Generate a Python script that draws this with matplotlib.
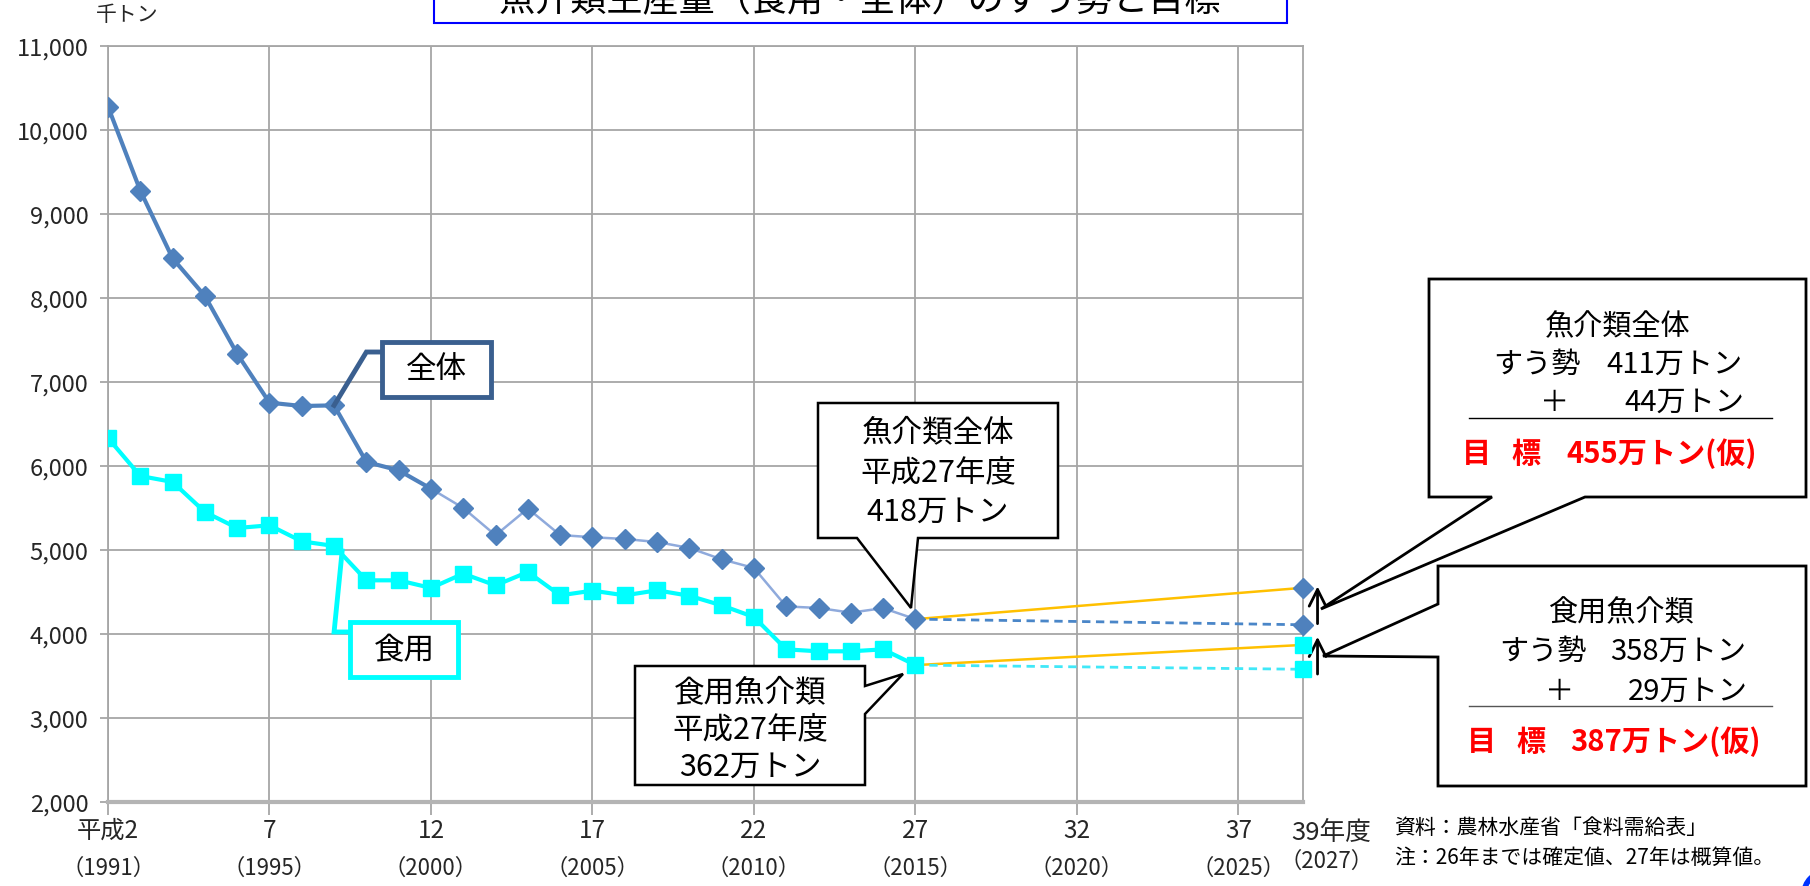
import matplotlib.pyplot as plt
from matplotlib.patches import Polygon, Rectangle, Ellipse

plt.rcParams['font.family'] = ['Noto Sans CJK JP', 'DejaVu Sans']

W, H = 1810, 887

# fiscal years (Heisei) and production, thousand tons
years = list(range(2, 28))
total = [10278, 9278, 8472, 8024, 7335, 6754, 6714, 6722, 6048, 5948, 5730, 5500, 5175,
         5494, 5178, 5152, 5131, 5095, 5024, 4889, 4786, 4328, 4310, 4254, 4308, 4177]
food = [6333, 5881, 5810, 5452, 5262, 5294, 5103, 5048, 4639, 4639, 4548, 4718, 4579,
        4738, 4460, 4516, 4460, 4520, 4455, 4341, 4202, 3817, 3794, 3794, 3817, 3630]

proj_years = [27, 39]
total_target = [4177, 4550]
total_trend = [4177, 4110]
food_target = [3630, 3870]
food_trend = [3630, 3580]

tick_years = [2, 7, 12, 17, 22, 27, 32, 37]
tick_top = ['平成2', '7', '12', '17', '22', '27', '32', '37']
tick_bottom = ['（1991）', '（1995）', '（2000）', '（2005）', '（2010）', '（2015）', '（2020）', '（2025）']
y_ticks = list(range(2000, 11001, 1000))

NARROW = ['Liberation Sans Narrow', 'Noto Sans CJK JP', 'DejaVu Sans']


def px(x, y):
    # pixel position (from top left) -> figure fraction
    return x / W, 1 - y / H


def ftext(x, y, s, **kw):
    kw.setdefault('ha', 'center')
    kw.setdefault('va', 'center')
    fig.text(x / W, 1 - y / H, s, **kw)


def fpoly(points, **kw):
    p = Polygon([px(a, b) for a, b in points], closed=True, transform=fig.transFigure, **kw)
    fig.add_artist(p)


fig = plt.figure(figsize=(W / 100, H / 100), dpi=100)
ax = fig.add_axes([108 / W, 1 - 803 / H, (1303 - 108) / W, (803 - 47) / H])

ax.set_xlim(2, 39)
ax.set_ylim(2000, 11000)
ax.set_axisbelow(True)
ax.set_xticks(tick_years)
ax.set_xticklabels([''] * len(tick_years))
ax.set_yticks(y_ticks)
ax.set_yticklabels([f'{v:,}' for v in y_ticks], family=NARROW, fontsize=17, color='#262626')
ax.grid(True, color='#A6A6A6', lw=1.3)
ax.tick_params(axis='y', length=6, width=1.3, color='#A6A6A6', pad=8)
ax.tick_params(axis='x', length=9, width=1.3, color='#A6A6A6')
for side in ['left', 'top', 'right']:
    ax.spines[side].set_color('#A6A6A6')
    ax.spines[side].set_linewidth(1.3)
ax.spines['bottom'].set_color('#B4B4B4')
ax.spines['bottom'].set_linewidth(3)

for yr, t1, t2 in zip(tick_years, tick_top, tick_bottom):
    ax.text(yr, -0.037, t1, transform=ax.get_xaxis_transform(), ha='center', va='center',
            family=NARROW, fontsize=17.5, color='#262626')
    ax.text(yr, -0.086, t2, transform=ax.get_xaxis_transform(), ha='center', va='center',
            family=NARROW, fontsize=16, color='#262626')
ftext(1331, 833, '39年度', family=NARROW, fontsize=18.5, color='#262626')
ftext(1326, 861, '（2027）', family=NARROW, fontsize=16, color='#262626')
ftext(127, 15, '千トン', fontsize=15, color='#262626')

# series
ax.plot(years[:11], total[:11], color='#4F81BD', lw=3, zorder=3)
ax.plot(years[10:], total[10:], color='#8FAADC', lw=1.8, zorder=3)
ax.plot(years, total, ls='none', marker='D', ms=10, color='#4F81BD', zorder=4)
ax.plot(years, food, color='#00FFFF', lw=3, marker='s', ms=12, zorder=4)

ax.plot(proj_years, total_target, color='#FFC000', lw=1.8, zorder=3)
ax.plot(proj_years, food_target, color='#FFC000', lw=1.8, zorder=3)
ax.plot(proj_years, total_trend, color='#4A86C8', lw=2, ls=(0, (3, 2)), zorder=3)
ax.plot(proj_years, food_trend, color='#40E8F8', lw=2, ls=(0, (3, 2)), zorder=3)
ax.plot([39, 39], [total_target[1], total_trend[1]], ls='none', marker='D', ms=10,
        color='#4F81BD', clip_on=False, zorder=5)
ax.plot([39, 39], [food_target[1], food_trend[1]], ls='none', marker='s', ms=12,
        color='#00FFFF', clip_on=False, zorder=5)

# arrows from trend to target
ax.annotate('', xy=(39.45, 4600), xytext=(39.45, 4090), annotation_clip=False,
            arrowprops=dict(arrowstyle='->', lw=2, color='black', mutation_scale=30))
ax.annotate('', xy=(39.45, 4000), xytext=(39.45, 3490), annotation_clip=False,
            arrowprops=dict(arrowstyle='->', lw=2, color='black', mutation_scale=30))

# series labels with leaders
ax.plot([years[7], 10.0, 10.5], [total[7], 7357, 7357], color='#3A5F8F', lw=3.5, zorder=5,
        solid_joinstyle='miter')
ax.plot([9.25, 9.0, 9.5], [food[7] - 60, 4024, 4024], color='#00FFFF', lw=3.5, zorder=5,
        solid_joinstyle='miter')
fig.add_artist(Rectangle(px(382, 398), 109 / W, 55 / H, transform=fig.transFigure,
                         facecolor='white', edgecolor='#3A5F8F', lw=3.5))
ftext(436, 370, '全体', fontsize=22)
fig.add_artist(Rectangle(px(350, 678), 108 / W, 55 / H, transform=fig.transFigure,
                         facecolor='white', edgecolor='#00FFFF', lw=3.5))
ftext(404, 651, '食用', fontsize=22)

# callouts at H27
fpoly([(818, 404), (1058, 404), (1058, 539), (918, 539), (911, 609), (857, 539), (818, 539)],
      facecolor='white', edgecolor='black', lw=1.8)
ftext(938, 433, '魚介類全体', fontsize=22)
ftext(938, 473, '平成27年度', fontsize=22)
ftext(938, 512, '418万トン', fontsize=22)

fpoly([(635, 667), (865, 667), (865, 687), (903, 675), (865, 715), (865, 786), (635, 786)],
      facecolor='white', edgecolor='black', lw=1.8)
ftext(750, 693, '食用魚介類', fontsize=22)
ftext(750, 730, '平成27年度', fontsize=22)
ftext(750, 767, '362万トン', fontsize=22)

# target boxes
fpoly([(1429, 280), (1806, 280), (1806, 498), (1585, 498), (1321, 610), (1492, 498), (1429, 498)],
      facecolor='white', edgecolor='black', lw=2)
ftext(1618, 327, '魚介類全体', fontsize=21)
ftext(1493, 365, 'すう勢', fontsize=21, ha='left')
ftext(1742, 365, '411万トン', fontsize=21, ha='right')
ftext(1555, 403, '＋', fontsize=21)
ftext(1744, 403, '44万トン', fontsize=21, ha='right')
fig.add_artist(plt.Line2D([1469 / W, 1772 / W], [1 - 419 / H] * 2, color='black', lw=1))
ftext(1462, 454, '目', fontsize=21, ha='left', color='#FF0000', weight='bold')
ftext(1511, 454, '標', fontsize=21, ha='left', color='#FF0000', weight='bold')
ftext(1566, 454, '455万トン(仮)', fontsize=21, ha='left', color='#FF0000', weight='bold')

fpoly([(1438, 567), (1806, 567), (1806, 787), (1438, 787), (1438, 658), (1323, 657), (1438, 605)],
      facecolor='white', edgecolor='black', lw=2)
ftext(1622, 613, '食用魚介類', fontsize=21)
ftext(1499, 652, 'すう勢', fontsize=21, ha='left')
ftext(1746, 652, '358万トン', fontsize=21, ha='right')
ftext(1560, 692, '＋', fontsize=21)
ftext(1748, 692, '29万トン', fontsize=21, ha='right')
fig.add_artist(plt.Line2D([1469 / W, 1772 / W], [1 - 707 / H] * 2, color='#555555', lw=1))
ftext(1467, 742, '目', fontsize=21, ha='left', color='#FF0000', weight='bold')
ftext(1516, 742, '標', fontsize=21, ha='left', color='#FF0000', weight='bold')
ftext(1570, 742, '387万トン(仮)', fontsize=21, ha='left', color='#FF0000', weight='bold')

# source notes
ftext(1394, 828, '資料：農林水産省「食料需給表」', fontsize=15, ha='left')
ftext(1394, 858, '注：26年までは確定値、27年は概算値。', fontsize=15, ha='left')

# title box, cut at the top edge as in the source image
fig.add_artist(Rectangle(px(434, 24), (1287 - 434) / W, 40 / H, transform=fig.transFigure,
                         facecolor='white', edgecolor='#0000FF', lw=1.5))
ftext(860, 11, '魚介類生産量（食用・全体）のすう勢と目標', fontsize=26, va='baseline')

fig.add_artist(Ellipse(px(1826, 895), 44 / W, 44 / H, transform=fig.transFigure,
                       fill=False, edgecolor='#0033FF', lw=4))

fig.savefig('out.png', dpi=100)
